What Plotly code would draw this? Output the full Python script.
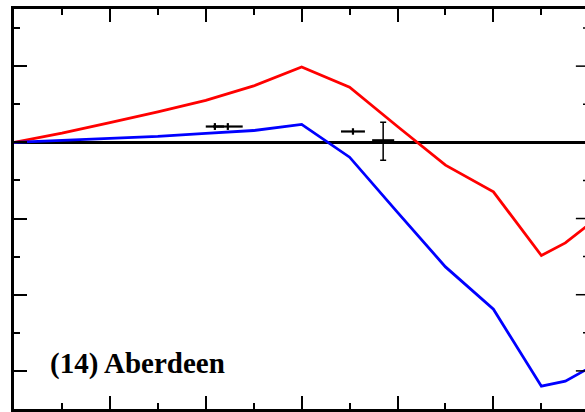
import plotly.graph_objects as go

# model curves (x in minor-tick units, y in minor-tick units)
x_model = [0, 1, 2, 3, 4, 5, 6, 7, 8, 9, 10, 11, 11.5, 12.1]
red_vals = [0, 0.24, 0.52, 0.80, 1.10, 1.48, 1.98, 1.45, 0.415, -0.6, -1.3, -2.97, -2.64, -2.05]
blue_vals = [0, 0.05, 0.10, 0.155, 0.235, 0.31, 0.47, -0.39, -1.84, -3.27, -4.38, -6.40, -6.27, -5.85]

# observations with error bars
obs_small_x = [4.19, 4.46, 7.07]
obs_small_y = [0.415, 0.415, 0.285]
obs_small_xerr = [0.19, 0.31, 0.25]
obs_small_yerr = [0.09, 0.09, 0.085]
obs_big_x = [7.70]
obs_big_y = [0.03]
obs_big_xerr = [0.23]
obs_big_yerr = [0.5]

label_text = "(14) Aberdeen"

fig = go.Figure()
fig.add_trace(go.Scatter(x=x_model, y=red_vals, mode="lines",
                         line=dict(color="#ff0000", width=2.8), showlegend=False))
fig.add_trace(go.Scatter(x=x_model, y=blue_vals, mode="lines",
                         line=dict(color="#0000ff", width=2.8), showlegend=False))
fig.add_trace(go.Scatter(x=obs_small_x, y=obs_small_y, mode="markers",
                         marker=dict(size=1, color="black"),
                         error_x=dict(type="data", array=obs_small_xerr, color="black", thickness=2.2, width=0),
                         error_y=dict(type="data", array=obs_small_yerr, color="black", thickness=2.2, width=0),
                         showlegend=False))
fig.add_trace(go.Scatter(x=obs_big_x, y=obs_big_y, mode="markers",
                         marker=dict(size=1, color="black"),
                         error_x=dict(type="data", array=obs_big_xerr, color="black", thickness=4, width=0),
                         error_y=dict(type="data", array=obs_big_yerr, color="black", thickness=1.5, width=3),
                         showlegend=False))

# right-side ticks (frame lies just beyond the visible edge)
shapes = []
for yv in range(-6, 4):
    major = (yv % 2 == 0)
    x0 = 0.984 if major else 0.9965
    shapes.append(dict(type="line", xref="paper", yref="y", x0=x0, x1=1.01, y0=yv, y1=yv,
                       line=dict(color="black", width=1.5)))

fig.update_layout(
    width=585, height=412,
    margin=dict(l=14, r=0, t=9, b=3),
    paper_bgcolor="white", plot_bgcolor="white",
    shapes=shapes,
    xaxis=dict(range=[0, 11.91], showgrid=False, zeroline=False, showticklabels=False,
               showline=True, linecolor="black", linewidth=3, mirror="ticks",
               ticks="inside", tick0=0, dtick=2, ticklen=13, tickwidth=1.5, tickcolor="black",
               minor=dict(ticks="inside", dtick=1, tick0=0, ticklen=6, tickwidth=1.5, tickcolor="black", showgrid=False)),
    yaxis=dict(range=[-7, 3.5], showgrid=False, zeroline=True, zerolinecolor="black", zerolinewidth=3,
               showticklabels=False, showline=True, linecolor="black", linewidth=3, mirror=False,
               ticks="inside", tick0=0, dtick=2, ticklen=13, tickwidth=1.5, tickcolor="black",
               minor=dict(ticks="inside", dtick=1, tick0=0, ticklen=6, tickwidth=1.5, tickcolor="black", showgrid=False)),
    annotations=[dict(text="<b>" + label_text + "</b>", xref="paper", yref="paper",
                      x=(48 - 14) / 571, y=(412 - 3 - 363) / 400, xanchor="left", yanchor="middle",
                      showarrow=False,
                      font=dict(family="Liberation Serif, Times New Roman, serif", size=29, color="black"))],
)

fig.write_html("out.html", config={"displayModeBar": False},
               post_script="document.body.style.margin='0';")
